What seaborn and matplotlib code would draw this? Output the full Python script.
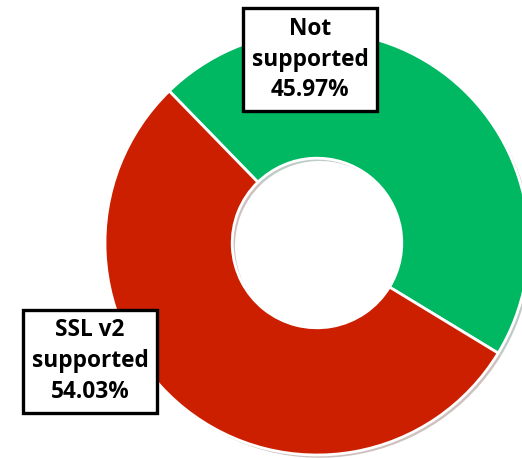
import matplotlib
matplotlib.use("Agg")
import matplotlib.pyplot as plt
import matplotlib.patheffects as pe
import seaborn as sns

# data
labels = ["Not\nsupported", "SSL v2\nsupported"]
shares = [45.97, 54.03]
colors = ["#00B862", "#CC1F00"]
label_pos = [(-0.033, 0.865), (-1.07, -0.557)]

sns.set_theme(style="white")
plt.rcParams["font.family"] = ["Open Sans", "DejaVu Sans"]

fig = plt.figure(figsize=(5.22, 4.58), dpi=100)
ax = fig.add_axes([0, 0, 1, 1])

wedges, _ = ax.pie(
    shares,
    colors=colors,
    startangle=134.2,
    counterclock=False,
    radius=1.0,
    wedgeprops=dict(width=0.6, edgecolor="white", linewidth=2),
)
for w in wedges:
    w.set_path_effects([pe.SimplePatchShadow(offset=(2, -2), alpha=0.25), pe.Normal()])

# data labels in boxes
for lab, val, (x, y) in zip(labels, shares, label_pos):
    ax.text(
        x, y, f"{lab}\n{val:.2f}%",
        ha="center", va="center", fontsize=16.3, fontweight="bold",
        color="black", linespacing=1.38,
        bbox=dict(boxstyle="square,pad=0.38", facecolor="white",
                  edgecolor="black", linewidth=2.4),
    )

# frame the donut like the original crop
ax.set_xlim(-317 / 212, (522 - 317) / 212)
ax.set_ylim(-(458 - 243) / 212, 243 / 212)
ax.set_aspect("auto")
ax.axis("off")

fig.savefig("out.png", dpi=100)
